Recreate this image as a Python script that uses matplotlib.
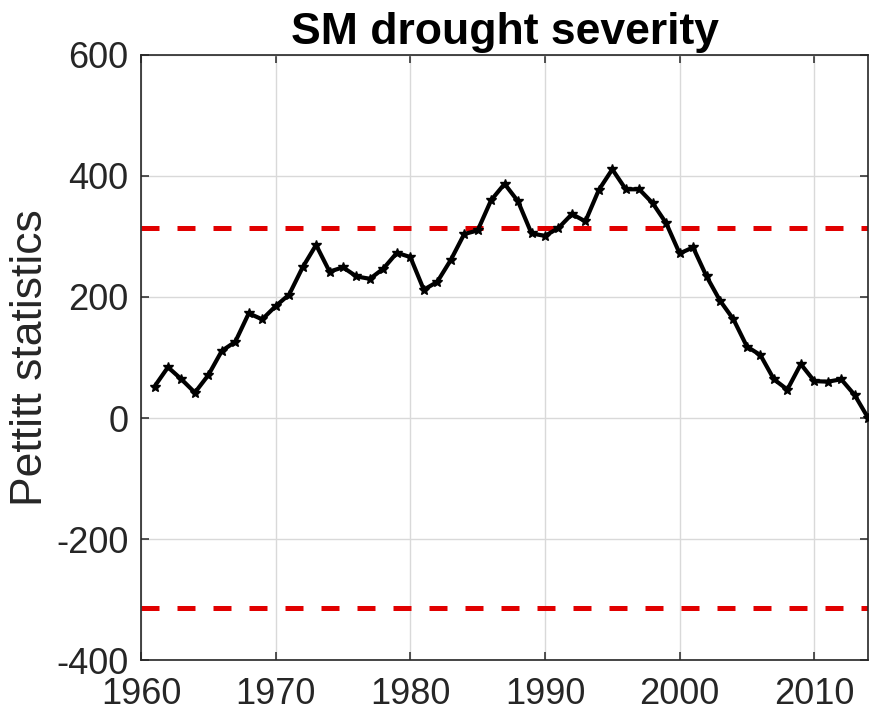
import matplotlib
matplotlib.use("Agg")
import matplotlib.pyplot as plt
import numpy as np

plt.rcParams['font.family'] = ['Liberation Sans', 'DejaVu Sans']
plt.rcParams['axes.unicode_minus'] = False

# Pettitt test statistic per year, soil-moisture drought severity
years = np.arange(1961, 2015)
pettitt = [52, 84, 64, 42, 71, 111, 126, 173, 163, 185,
           204, 249, 286, 242, 249, 234, 230, 247, 273, 266,
           212, 225, 261, 304, 310, 360, 387, 358, 305, 301,
           314, 337, 325, 377, 411, 378, 378, 355, 322, 272,
           282, 234, 194, 163, 118, 104, 64, 47, 89, 61,
           60, 64, 38, 0]
k_crit = 314  # critical value, p = 0.05

xticks = [1960, 1970, 1980, 1990, 2000, 2010]
yticks = [-400, -200, 0, 200, 400, 600]

fig = plt.figure(figsize=(8.69, 7.13), dpi=100)
ax = fig.add_axes([0.1623, 0.0743, 0.8367, 0.8486])

dark = '#262626'
ax.grid(True, color='#d9d9d9', linewidth=1.0)
ax.set_axisbelow(True)

ax.plot(years, pettitt, color='k', linewidth=3.0, marker='*',
        markersize=7, zorder=3, clip_on=False)
for s in (1, -1):
    ax.axhline(s * k_crit, color='#e10000', linewidth=3.6,
               dashes=(3.6, 3.6), zorder=2)

ax.set_xlim(1960, 2014)
ax.set_ylim(-400, 600)
ax.set_xticks(xticks)
ax.set_yticks(yticks)
ax.tick_params(direction='in', top=True, right=True, length=6,
               width=1.1, colors=dark, labelsize=26)
ax.tick_params(axis='x', pad=12)
ax.tick_params(axis='y', pad=9)
for sp in ax.spines.values():
    sp.set_color(dark)
    sp.set_linewidth(1.2)

ax.set_ylabel('Pettitt statistics', fontsize=32, color=dark, labelpad=4)
ax.set_title('SM drought severity', fontsize=32, fontweight='bold',
             color='k', pad=8)

fig.savefig('out.png', dpi=100)
